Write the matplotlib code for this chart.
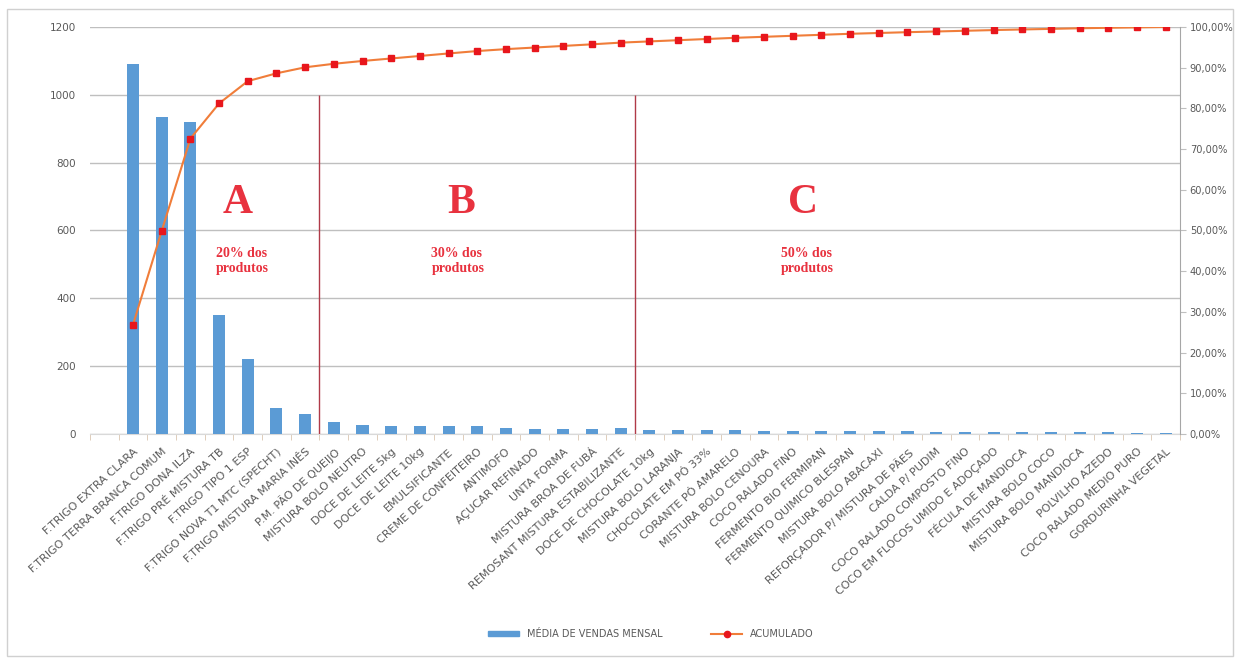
import matplotlib.pyplot as plt
import matplotlib.patches as mpatches
from matplotlib.lines import Line2D
from matplotlib.ticker import FuncFormatter
import numpy as np

# Data
produtos = [
    'F.TRIGO EXTRA CLARA', 'F.TRIGO TERRA BRANCA COMUM', 'F.TRIGO DONA ILZA',
    'F.TRIGO PRÉ MISTURA TB', 'F.TRIGO TIPO 1 ESP', 'F.TRIGO NOVA T1 MTC (SPECHT)',
    'F.TRIGO MISTURA MARIA INÊS', 'P.M. PÃO DE QUEIJO', 'MISTURA BOLO NEUTRO',
    'DOCE DE LEITE 5kg', 'DOCE DE LEITE 10kg', 'EMULSIFICANTE', 'CREME DE CONFEITEIRO',
    'ANTIMOFO', 'AÇUCAR REFINADO', 'UNTA FORMA', 'MISTURA BROA DE FUBÁ',
    'REMOSANT MISTURA ESTABILIZANTE', 'DOCE DE CHOCOLATE 10kg', 'MISTURA BOLO LARANJA',
    'CHOCOLATE EM PÓ 33%', 'CORANTE PÓ AMARELO', 'MISTURA BOLO CENOURA',
    'COCO RALADO FINO', 'FERMENTO BIO FERMIPAN', 'FERMENTO QUIMICO BLESPAN',
    'MISTURA BOLO ABACAXI', 'REFORÇADOR P/ MISTURA DE PÃES', 'CALDA P/ PUDIM',
    'COCO RALADO COMPOSTO FINO', 'COCO EM FLOCOS UMIDO E ADOÇADO', 'FÉCULA DE MANDIOCA',
    'MISTURA BOLO COCO', 'MISTURA BOLO MANDIOCA', 'POLVILHO AZEDO',
    'COCO RALADO MEDIO PURO', 'GORDURINHA VEGETAL',
]
vendas = [1090, 935, 920, 350, 222, 78, 60,
          35, 28, 25, 25, 25, 24, 19, 16, 16, 16, 17,
          12, 12, 12, 12, 10, 10, 10, 10, 8, 8, 7, 7, 7, 6, 6, 6, 5, 4, 4]

classes = ['A', 'B', 'C']
classe_txt = ['20% dos\nprodutos', '30% dos\nprodutos', '50% dos\nprodutos']
limites = [7, 18]  # products in A, A+B

acumulado = np.cumsum(vendas) / np.sum(vendas)
x = np.arange(len(produtos))

fig = plt.figure(figsize=(12.4, 6.61), dpi=100)
fig.patches.append(mpatches.Rectangle((0.006, 0.008), 0.988, 0.978, transform=fig.transFigure,
                                      fill=False, edgecolor='#D0D0D0', lw=1))
ax = fig.add_axes([0.0726, 0.3434, 0.879, 0.6158])

ax.bar(x, vendas, width=0.42, color='#5B9BD5', zorder=3)
ax.set_xlim(-1.5, len(produtos) - 0.5)
ax.set_ylim(0, 1200)
ax.set_yticks(range(0, 1201, 200))
ax.yaxis.grid(True, color='#BFBFBF', lw=1, zorder=0)
ax.tick_params(axis='y', length=0, labelsize=7.5, labelcolor='#595959', pad=10)

ax.set_xticks(x)
ax.set_xticklabels(produtos, rotation=42, ha='right', rotation_mode='anchor',
                   fontsize=8, color='#595959')
ax.tick_params(axis='x', length=0, pad=9)
ax.set_xticks(np.arange(-1.5, len(produtos), 1), minor=True)
ax.tick_params(axis='x', which='minor', length=4, color='#D9C5B0')

for s in ['top', 'left', 'right']:
    ax.spines[s].set_visible(False)
ax.spines['bottom'].set_color('#D9D9D9')

# ABC separators and labels
for lim in limites:
    ax.vlines(lim - 0.5, 0, 1000, color='#B03A48', lw=1, zorder=4)

red = '#E8323F'
ax.text(3.65, 681, classes[0], color=red, fontsize=30, fontweight='bold',
        family='Liberation Serif', ha='center', va='center')
ax.text(11.45, 681, classes[1], color=red, fontsize=30, fontweight='bold',
        family='Liberation Serif', ha='center', va='center')
ax.text(23.35, 681, classes[2], color=red, fontsize=30, fontweight='bold',
        family='Liberation Serif', ha='center', va='center')
ax.text(2.9, 510, classe_txt[0], color=red, fontsize=10, fontweight='bold',
        family='Liberation Serif', ha='left', va='center')
ax.text(10.4, 510, classe_txt[1], color=red, fontsize=10, fontweight='bold',
        family='Liberation Serif', ha='left', va='center')
ax.text(22.6, 510, classe_txt[2], color=red, fontsize=10, fontweight='bold',
        family='Liberation Serif', ha='left', va='center')

# cumulative on secondary axis
ax2 = ax.twinx()
ax2.plot(x, acumulado, color='#F07D3A', lw=1.5, marker='s', markersize=4.5,
         markerfacecolor='#E8161C', markeredgecolor='#E8161C', zorder=5)
ax2.set_ylim(0, 1)
ax2.set_yticks(np.arange(0, 1.01, 0.1))
ax2.yaxis.set_major_formatter(FuncFormatter(lambda v, p: f'{v * 100:.2f}%'.replace('.', ',')))
ax2.tick_params(axis='y', length=4, color='#BFBFBF', labelsize=7.1, labelcolor='#595959', pad=3)
for s in ['top', 'left', 'bottom']:
    ax2.spines[s].set_visible(False)
ax2.spines['right'].set_color('#A6A6A6')

handles = [mpatches.Patch(color='#5B9BD5'),
           Line2D([], [], color='#F07D3A', lw=1.5, marker='o', markersize=4.5,
                  markerfacecolor='#E8161C', markeredgecolor='#E8161C')]
fig.legend(handles, ['MÉDIA DE VENDAS MENSAL', 'ACUMULADO'], loc='center',
           bbox_to_anchor=(0.525, 0.041), ncol=2, frameon=False, fontsize=7,
           labelcolor='#595959', handlelength=3.2, handleheight=0.4, columnspacing=5)

fig.savefig('out.png', dpi=100)
